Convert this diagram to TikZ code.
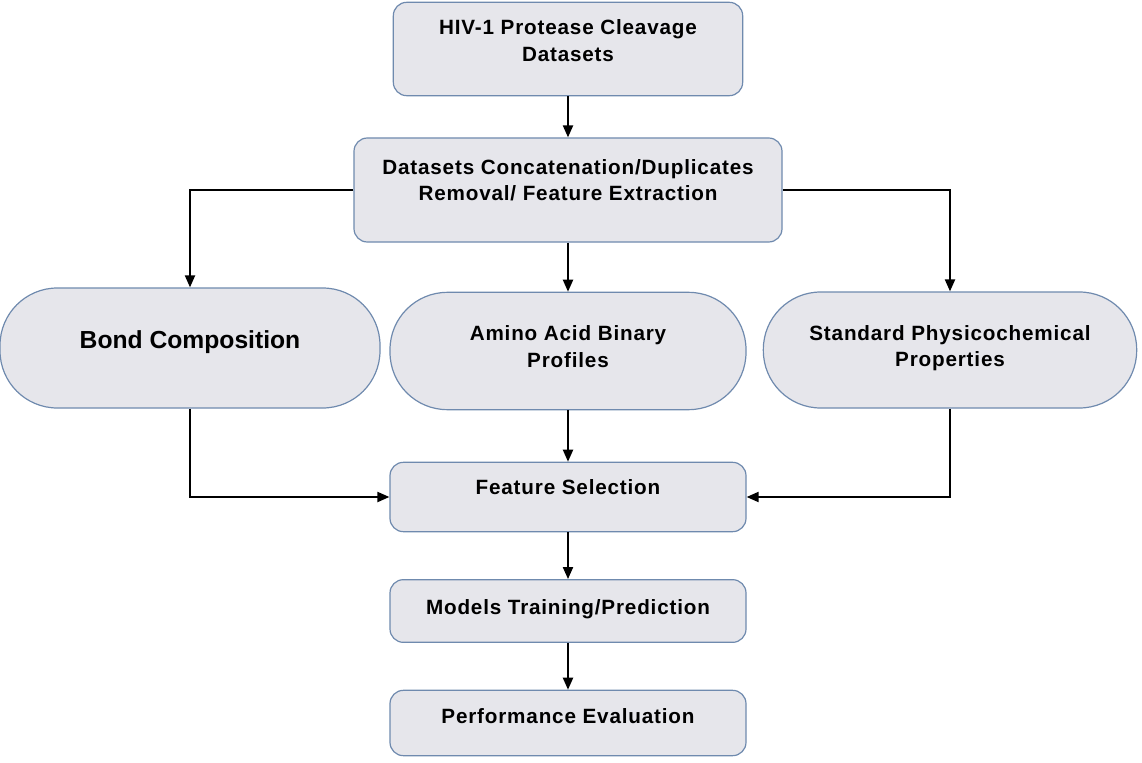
\documentclass[tikz,border=0pt]{standalone}
\usepackage{fontspec}
\setmainfont{Liberation Sans}
\newfontfamily\boxfont[LetterSpace=4]{Liberation Sans}
\usetikzlibrary{arrows.meta}
\definecolor{boxfill}{HTML}{E6E6EB}
\definecolor{boxline}{HTML}{6F8AAE}
\begin{document}
\begin{tikzpicture}[x=0.75pt,y=-0.75pt,
    stepbox/.style={draw=boxline,fill=boxfill,line width=0.9pt,rounded corners=10pt,
        align=center,inner sep=0pt,font=\boxfont\bfseries\fontsize{15.5}{20}\selectfont},
    pill/.style={stepbox,rounded corners=43pt},
    liftby/.style={text depth=#1},
    flow/.style={line width=1.5pt,-{Triangle[length=9pt,width=7.5pt]}}]
        \useasboundingbox(0,0)rectangle(1142,763);

        \node[stepbox,liftby=13pt,minimum width=262pt,minimum height=70pt](data)at(568,49){HIV-1 Protease Cleavage\\Datasets};
        \node[stepbox,liftby=15pt,minimum width=321pt,minimum height=78pt](concat)at(568,190){Datasets Concatenation/Duplicates\\Removal/ Feature Extraction};

        \node[pill,liftby=13pt,minimum width=285pt,minimum height=90pt,font=\bfseries\fontsize{18.5}{20}\selectfont](bond)at(190,348){Bond Composition};
        \node[pill,liftby=7pt,minimum width=267pt,minimum height=88pt](binary)at(568,351){Amino Acid Binary\\Profiles};
        \node[pill,liftby=6pt,minimum width=280pt,minimum height=87pt](physico)at(950,350){Standard Physicochemical\\Properties};

        \node[stepbox,liftby=15pt,minimum width=267pt,minimum height=52pt](select)at(568,497){Feature Selection};
        \node[stepbox,liftby=6pt,minimum width=267pt,minimum height=47pt](train)at(568,611){Models Training/Prediction};
        \node[stepbox,liftby=11pt,minimum width=267pt,minimum height=49pt](eval)at(568,723){Performance Evaluation};

        \draw[flow](data)--(concat);
        \draw[flow](concat.west)-|(bond.north);
        \draw[flow](concat)--(binary);
        \draw[flow](concat.east)-|(physico.north);
        \draw[flow](bond.south)|-(select.west);
        \draw[flow](binary)--(select);
        \draw[flow](physico.south)|-(select.east);
        \draw[flow](select)--(train);
        \draw[flow](train)--(eval);
    \end{tikzpicture}
\end{document}
